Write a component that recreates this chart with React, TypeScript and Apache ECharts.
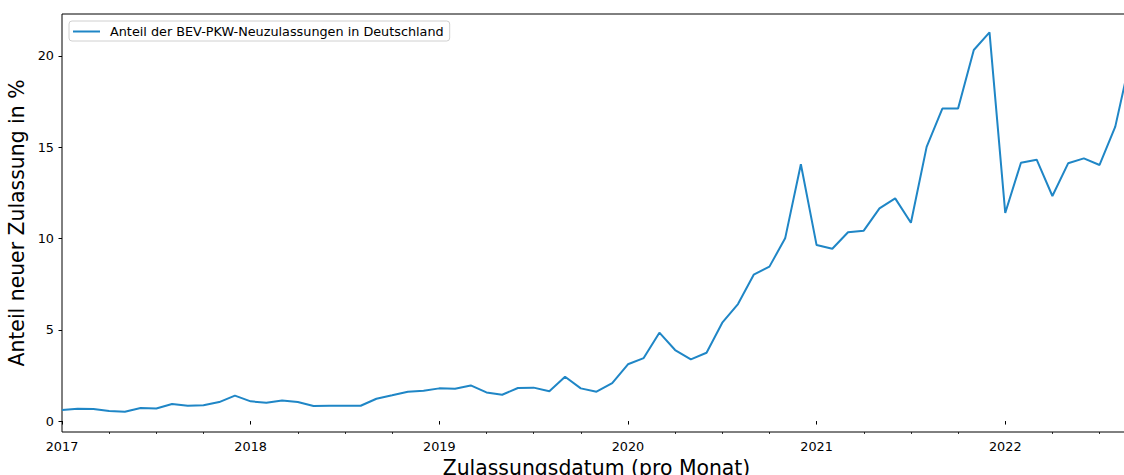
import React, { useEffect, useRef } from "react";
import * as echarts from "echarts";

// Monthly periods 2017-01 .. 2022-09
const years = [2017, 2018, 2019, 2020, 2021, 2022];
const monthsPerYear = 12;
const months: string[] = [];
years.forEach((y) => {
  for (let m = 1; m <= monthsPerYear; m++) {
    if (y === 2022 && m > 9) break;
    months.push(`${y}-${String(m).padStart(2, "0")}`);
  }
});

// Share of BEV new car registrations in Germany (%)
const share2017 = [0.6, 0.67, 0.66, 0.55, 0.51, 0.71, 0.69, 0.93, 0.84, 0.86, 1.04, 1.39];
const share2018 = [1.08, 1.0, 1.13, 1.04, 0.82, 0.84, 0.84, 0.84, 1.22, 1.41, 1.61, 1.66];
const share2019 = [1.79, 1.77, 1.95, 1.57, 1.44, 1.81, 1.83, 1.63, 2.43, 1.79, 1.61, 2.08];
const share2020 = [3.11, 3.45, 4.84, 3.89, 3.38, 3.74, 5.39, 6.41, 8.02, 8.46, 10.01, 14.07];
const share2021 = [9.64, 9.44, 10.34, 10.43, 11.65, 12.2, 10.86, 15.02, 17.12, 17.12, 20.33, 21.29];
const share2022 = [11.4, 14.15, 14.32, 12.33, 14.12, 14.39, 14.03, 16.13, 20.0];
const values = [...share2017, ...share2018, ...share2019, ...share2020, ...share2021, ...share2022];

const yTicks = [0, 5, 10, 15, 20];
const yearTickIdx = [0, 12, 24, 36, 48, 60];
const quarterTickIdx = [3, 6, 9, 15, 18, 21, 27, 30, 33, 39, 42, 45, 51, 54, 57, 63, 66];

const seriesName = "Anteil der BEV-PKW-Neuzulassungen in Deutschland";
const font = "DejaVu Sans";
const lineColor = "#1f86c6";

export default function App() {
  const ref = useRef<HTMLDivElement>(null);
  useEffect(() => {
    if (!ref.current) return;
    const chart = echarts.init(ref.current, null, { renderer: "svg" });
    const data = values.map((v, i) => [i, v]);
    chart.setOption({
      animation: false,
      backgroundColor: "#ffffff",
      textStyle: { fontFamily: font },
      grid: {
        left: 62,
        top: 14,
        width: 1069,
        height: 418,
        show: true,
        borderColor: "#000",
        borderWidth: 1,
        backgroundColor: "transparent",
        containLabel: false,
        outerBoundsMode: "none",
      },
      legend: {
        show: true,
        left: 69,
        top: 21,
        orient: "horizontal",
        data: [seriesName],
        icon: "rect",
        itemWidth: 27,
        itemHeight: 2,
        padding: [4, 6, 3, 4],
        backgroundColor: "#fff",
        borderColor: "#d0d0d0",
        borderWidth: 1,
        borderRadius: 3,
        textStyle: { fontFamily: font, fontSize: 12.8, color: "#000", padding: [0, 0, 0, 5] },
      },
      xAxis: [
        {
          type: "value",
          min: 0,
          max: months.length - 1,
          name: "Zulassungsdatum (pro Monat)",
          nameLocation: "middle",
          nameGap: 20,
          nameTextStyle: { fontFamily: font, fontSize: 20.4, color: "#000" },
          axisLine: { show: false },
          splitLine: { show: false },
          axisTick: {
            show: true,
            inside: false,
            length: 3.5,
            lineStyle: { color: "#000", width: 1 },
            customValues: yearTickIdx,
          },
          axisLabel: {
            show: true,
            margin: 8,
            fontFamily: font,
            fontSize: 12.8,
            color: "#000",
            customValues: yearTickIdx,
            formatter: (v: number) => months[Math.round(v)].slice(0, 4),
          },
        },
        {
          type: "value",
          min: 0,
          max: months.length - 1,
          position: "bottom",
          axisLine: { show: false },
          splitLine: { show: false },
          axisLabel: { show: false },
          axisTick: {
            show: true,
            inside: false,
            length: 2,
            lineStyle: { color: "#000", width: 0.8 },
            customValues: quarterTickIdx,
          },
        },
      ],
      yAxis: {
        type: "value",
        min: -0.6,
        max: 22.3,
        name: "Anteil neuer Zulassung in %",
        nameLocation: "middle",
        nameGap: 31,
        nameTextStyle: { fontFamily: font, fontSize: 20.4, color: "#000" },
        axisLine: { show: false },
        splitLine: { show: false },
        axisTick: {
          show: true,
          inside: false,
          length: 3.5,
          lineStyle: { color: "#000", width: 1 },
          customValues: yTicks,
        },
        axisLabel: {
          show: true,
          margin: 8,
          fontFamily: font,
          fontSize: 12.8,
          color: "#000",
          customValues: yTicks,
        },
      },
      series: [
        {
          name: seriesName,
          type: "line",
          xAxisIndex: 0,
          data,
          showSymbol: false,
          symbol: "none",
          clip: true,
          color: lineColor,
          lineStyle: { color: lineColor, width: 2 },
        },
      ],
    });
    return () => chart.dispose();
  }, []);
  return (
    <div
      style={{
        position: "fixed",
        left: 0,
        top: 0,
        width: 1124,
        height: 475,
        overflow: "hidden",
        background: "#fff",
      }}
    >
      <div ref={ref} style={{ width: 1150, height: 475 }} />
    </div>
  );
}
